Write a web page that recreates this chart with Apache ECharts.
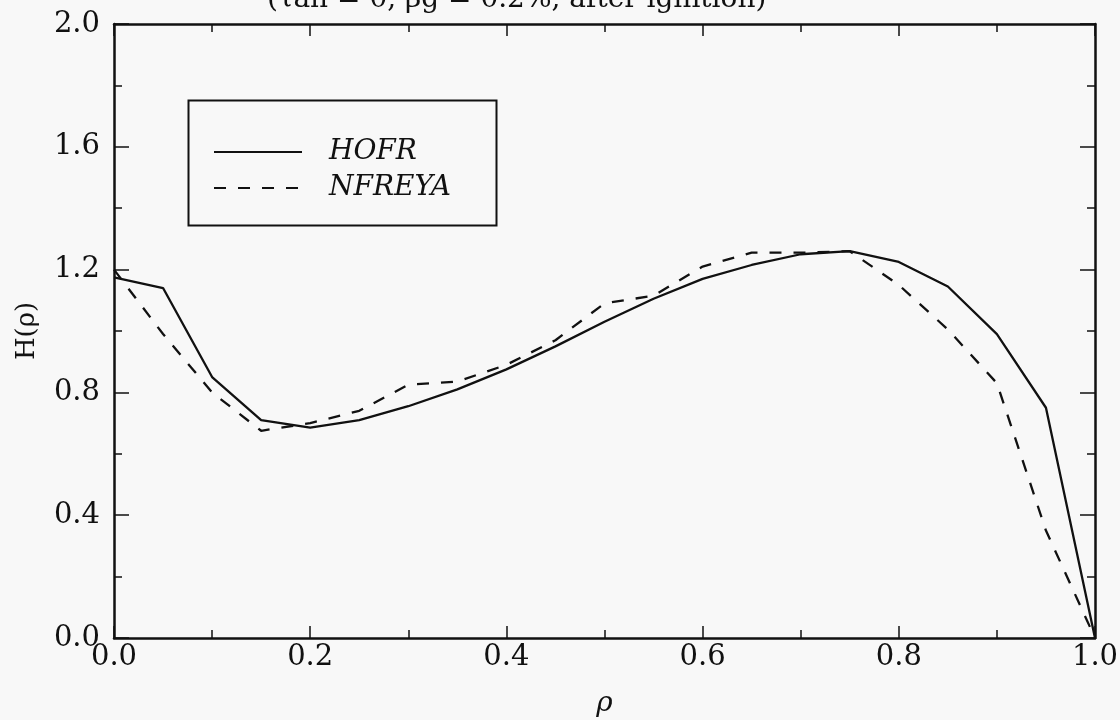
<!DOCTYPE html>
<html><head><meta charset="utf-8">
<script src="https://cdn.jsdelivr.net/npm/echarts@6/dist/echarts.min.js"></script>
<style>html,body{margin:0;padding:0;background:#f8f8f8}#c{width:1120px;height:720px}</style>
</head><body><div id="c"></div>
<script>
const rho    = [0.00,0.05,0.10,0.15,0.20,0.25,0.30,0.35,0.40,0.45,0.50,0.55,0.60,0.65,0.70,0.75,0.80,0.85,0.90,0.95,1.00];
const hofr   = [1.175,1.14,0.85,0.71,0.685,0.71,0.755,0.81,0.875,0.95,1.03,1.105,1.17,1.215,1.25,1.26,1.225,1.145,0.99,0.75,0.0];
const nfreya = [1.20,0.99,0.80,0.675,0.70,0.74,0.825,0.835,0.89,0.97,1.09,1.115,1.21,1.255,1.255,1.26,1.15,1.005,0.83,0.35,0.0];
const seriesNames = ['HOFR','NFREYA'];
const titleText = '(τan = 0, βg = 0.2%, after ignition)';
const xName = 'ρ';
const yName = 'H(ρ)';

const ink = '#111';
const serif = 'DejaVu Serif';
const zip = (xs, ys) => xs.map((x, i) => [x, ys[i]]);

const axisCommon = (showLabel) => ({
  type: 'value',
  axisLine: { show: true, onZero: false, lineStyle: { color: ink, width: 2.5 } },
  axisTick: { show: true, inside: true, length: 12, lineStyle: { color: ink, width: 1.5 } },
  minorTick: { show: true, splitNumber: 2, length: 8, lineStyle: { color: ink, width: 1.5 } },
  splitLine: { show: false },
  minorSplitLine: { show: false },
  axisLabel: { show: showLabel, formatter: v => v.toFixed(1), fontFamily: serif, fontSize: 29, color: ink }
});

const chart = echarts.init(document.getElementById('c'), null, { renderer: 'canvas' });
chart.setOption({
  backgroundColor: '#f8f8f8',
  animation: false,
  title: {
    text: titleText, left: 262, top: -19,
    textStyle: { fontFamily: serif, fontSize: 28, fontWeight: 'normal', color: ink }
  },
  grid: { left: 114, right: 25, top: 24, bottom: 82, containLabel: false, outerBoundsMode: 'none' },
  xAxis: [
    Object.assign(axisCommon(true), {
      min: 0, max: 1, interval: 0.2, position: 'bottom',
      name: xName, nameLocation: 'middle', nameGap: 52,
      nameTextStyle: { fontFamily: serif, fontStyle: 'italic', fontSize: 28, color: ink },
      axisLabel: { show: true, formatter: v => v.toFixed(1), fontFamily: serif, fontSize: 29, color: ink, margin: 5 }
    }),
    Object.assign(axisCommon(false), { min: 0, max: 1, interval: 0.2, position: 'top' })
  ],
  yAxis: [
    Object.assign(axisCommon(true), {
      min: 0, max: 2, interval: 0.4, position: 'left',
      name: yName, nameLocation: 'middle', nameGap: 74,
      nameTextStyle: { fontFamily: serif, fontSize: 26, color: ink },
      axisLabel: { show: true, formatter: v => v.toFixed(1), fontFamily: serif, fontSize: 29, color: ink, margin: 14 },
      axisTick: { show: true, inside: true, length: 15, lineStyle: { color: ink, width: 1.5 } }
    }),
    Object.assign(axisCommon(false), {
      min: 0, max: 2, interval: 0.4, position: 'right',
      axisTick: { show: true, inside: true, length: 15, lineStyle: { color: ink, width: 1.5 } }
    })
  ],
  legend: {
    data: seriesNames, orient: 'vertical', left: 213, top: 138, padding: 0,
    itemWidth: 88, itemHeight: 22, itemGap: 8,
    itemStyle: { opacity: 0 },
    textStyle: { fontFamily: serif, fontStyle: 'italic', fontSize: 28, color: ink, padding: [0, 0, 0, 22] }
  },
  graphic: [{
    type: 'rect', left: 186, top: 98, z: 1,
    shape: { width: 308, height: 125 },
    style: { fill: 'none', stroke: ink, lineWidth: 2 }
  }],
  series: [
    { name: seriesNames[0], type: 'line', data: zip(rho, hofr), symbol: 'none', smooth: false,
      lineStyle: { color: ink, width: 2.3, type: 'solid' }, itemStyle: { color: ink } },
    { name: seriesNames[1], type: 'line', data: zip(rho, nfreya), symbol: 'none', smooth: false,
      lineStyle: { color: ink, width: 2.3, type: [12, 12] }, itemStyle: { color: ink } }
  ]
});
</script></body></html>
